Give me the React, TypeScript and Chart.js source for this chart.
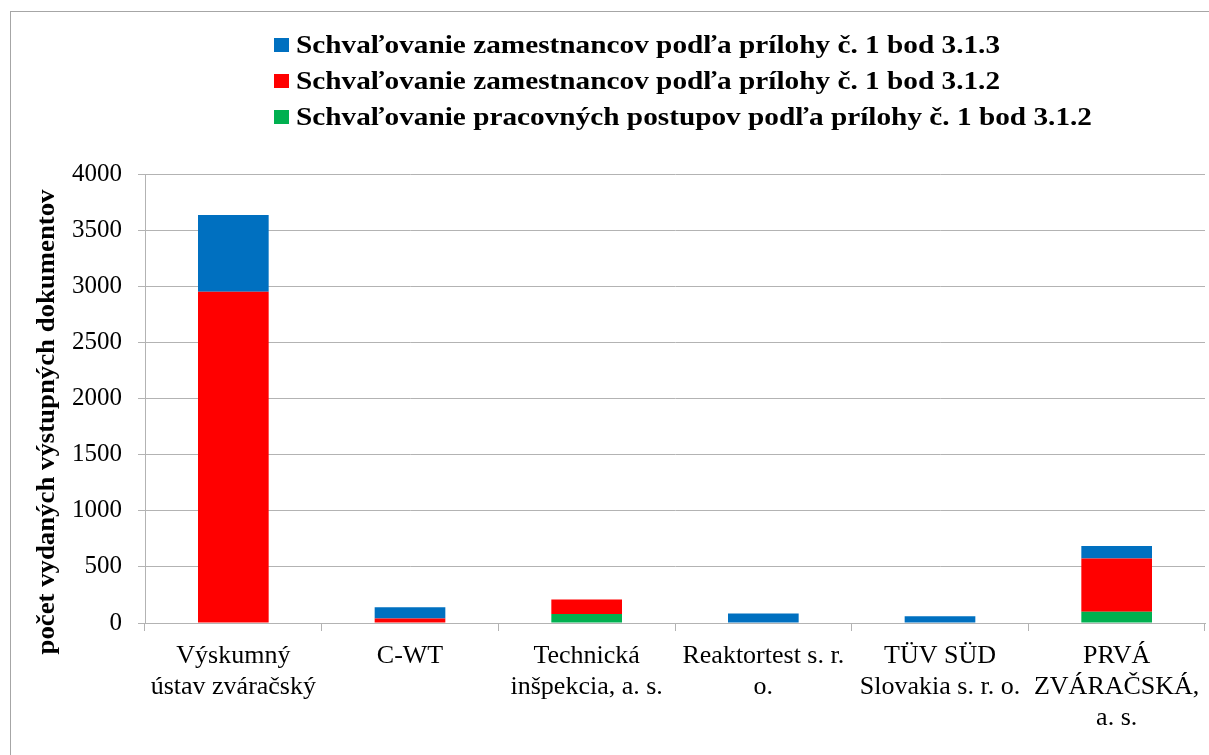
import React, { useEffect, useRef } from "react";
import { Chart, registerables } from "chart.js";

Chart.register(...registerables);

const categories: string[][] = [
  ["Výskumný", "ústav zváračský"],
  ["C-WT"],
  ["Technická", "inšpekcia, a. s."],
  ["Reaktortest s. r.", "o."],
  ["TÜV SÜD", "Slovakia s. r. o."],
  ["PRVÁ", "ZVÁRAČSKÁ,", "a. s."],
];

const seriesNames = [
  "Schvaľovanie pracovných postupov podľa prílohy č. 1 bod 3.1.2",
  "Schvaľovanie zamestnancov podľa prílohy č. 1 bod 3.1.2",
  "Schvaľovanie zamestnancov podľa prílohy č. 1 bod 3.1.3",
];

const greenValues = [0, 0, 80, 0, 0, 100];
const redValues = [2950, 40, 130, 0, 0, 475];
const blueValues = [685, 100, 0, 85, 60, 112];

const seriesColors = ["#00B050", "#FF0000", "#0070C0"];

const yTicks = [0, 500, 1000, 1500, 2000, 2500, 3000, 3500, 4000];
const yTitle = "počet vydaných výstupných dokumentov";

const FONT = "'Liberation Serif', 'Times New Roman', serif";

const decorPlugin = {
  id: "decor",
  beforeDraw(chart: any) {
    const ctx = chart.ctx;
    ctx.save();
    ctx.fillStyle = "#ffffff";
    ctx.fillRect(0, 0, chart.width, chart.height);
    ctx.strokeStyle = "#a6a6a6";
    ctx.lineWidth = 1;
    ctx.strokeRect(10.5, 11.5, chart.width + 50, chart.height + 50);
    ctx.restore();
  },
  afterDraw(chart: any) {
    const ctx = chart.ctx;
    ctx.save();
    // legend (reverse dataset order: top of stack first)
    const ds = chart.data.datasets.slice().reverse();
    ctx.font = `bold 24px ${FONT}`;
    ctx.textBaseline = "alphabetic";
    ctx.textAlign = "left";
    const widest = Math.max(...ds.map((d: any) => ctx.measureText(d.label).width));
    const sx = (1092 - 296) / widest;
    ds.forEach((d: any, i: number) => {
      const rowTop = 38 + i * 36;
      ctx.fillStyle = d.backgroundColor;
      ctx.fillRect(274, rowTop, 15, 14);
      ctx.fillStyle = "#000000";
      ctx.save();
      ctx.translate(296, rowTop + 15);
      ctx.scale(sx, 1.06);
      ctx.fillText(d.label, 0, 0);
      ctx.restore();
    });
    // y axis title
    ctx.translate(47, 422);
    ctx.rotate(-Math.PI / 2);
    ctx.textAlign = "center";
    ctx.textBaseline = "middle";
    ctx.font = `bold 24px ${FONT}`;
    const tw = ctx.measureText(yTitle).width;
    ctx.scale(465 / tw, 1.05);
    ctx.fillStyle = "#000000";
    ctx.fillText(yTitle, 0, 0);
    ctx.restore();
  },
};

export default function App() {
  const ref = useRef<HTMLCanvasElement | null>(null);

  useEffect(() => {
    if (!ref.current) return;
    const gridColor = "#b3b3b3";
    const chart = new Chart(ref.current, {
      type: "bar",
      data: {
        labels: categories,
        datasets: [
          { label: seriesNames[0], data: greenValues, backgroundColor: seriesColors[0] },
          { label: seriesNames[1], data: redValues, backgroundColor: seriesColors[1] },
          { label: seriesNames[2], data: blueValues, backgroundColor: seriesColors[2] },
        ],
      },
      options: {
        responsive: false,
        animation: false,
        layout: { padding: { left: 20, top: 174, right: 4, bottom: 0 } },
        datasets: {
          bar: { categoryPercentage: 1, barPercentage: 0.4, borderWidth: 0 },
        },
        plugins: {
          legend: { display: false },
          tooltip: { enabled: false },
          title: { display: false },
        },
        scales: {
          x: {
            stacked: true,
            afterFit: (s: any) => {
              s.height = 755 - 623;
            },
            grid: {
              display: true,
              drawOnChartArea: false,
              drawTicks: true,
              tickLength: 8,
              color: gridColor,
              offset: true,
            },
            border: { display: true, color: gridColor, width: 1 },
            ticks: {
              autoSkip: false,
              maxRotation: 0,
              minRotation: 0,
              padding: 9,
              color: "#000000",
              font: { family: FONT, size: 26, lineHeight: 1.21 },
            },
          },
          y: {
            stacked: true,
            min: 0,
            max: 4000,
            afterFit: (s: any) => {
              s.width = 145 - 20;
            },
            afterBuildTicks: (s: any) => {
              s.ticks = yTicks.map((v) => ({ value: v }));
            },
            grid: {
              color: gridColor,
              drawTicks: true,
              tickLength: 7,
              lineWidth: 1,
            },
            border: { display: true, color: gridColor, width: 1 },
            ticks: {
              padding: 16,
              color: "#000000",
              font: { family: FONT, size: 25 },
              callback: (v: any) => String(v),
            },
          },
        },
      },
      plugins: [decorPlugin],
    });
    return () => chart.destroy();
  }, []);

  return (
    <div
      style={{
        position: "fixed",
        left: 0,
        top: 0,
        width: 1209,
        height: 755,
        overflow: "hidden",
        background: "#fff",
      }}
    >
      <canvas ref={ref} width={1209} height={755} style={{ display: "block" }} />
    </div>
  );
}
